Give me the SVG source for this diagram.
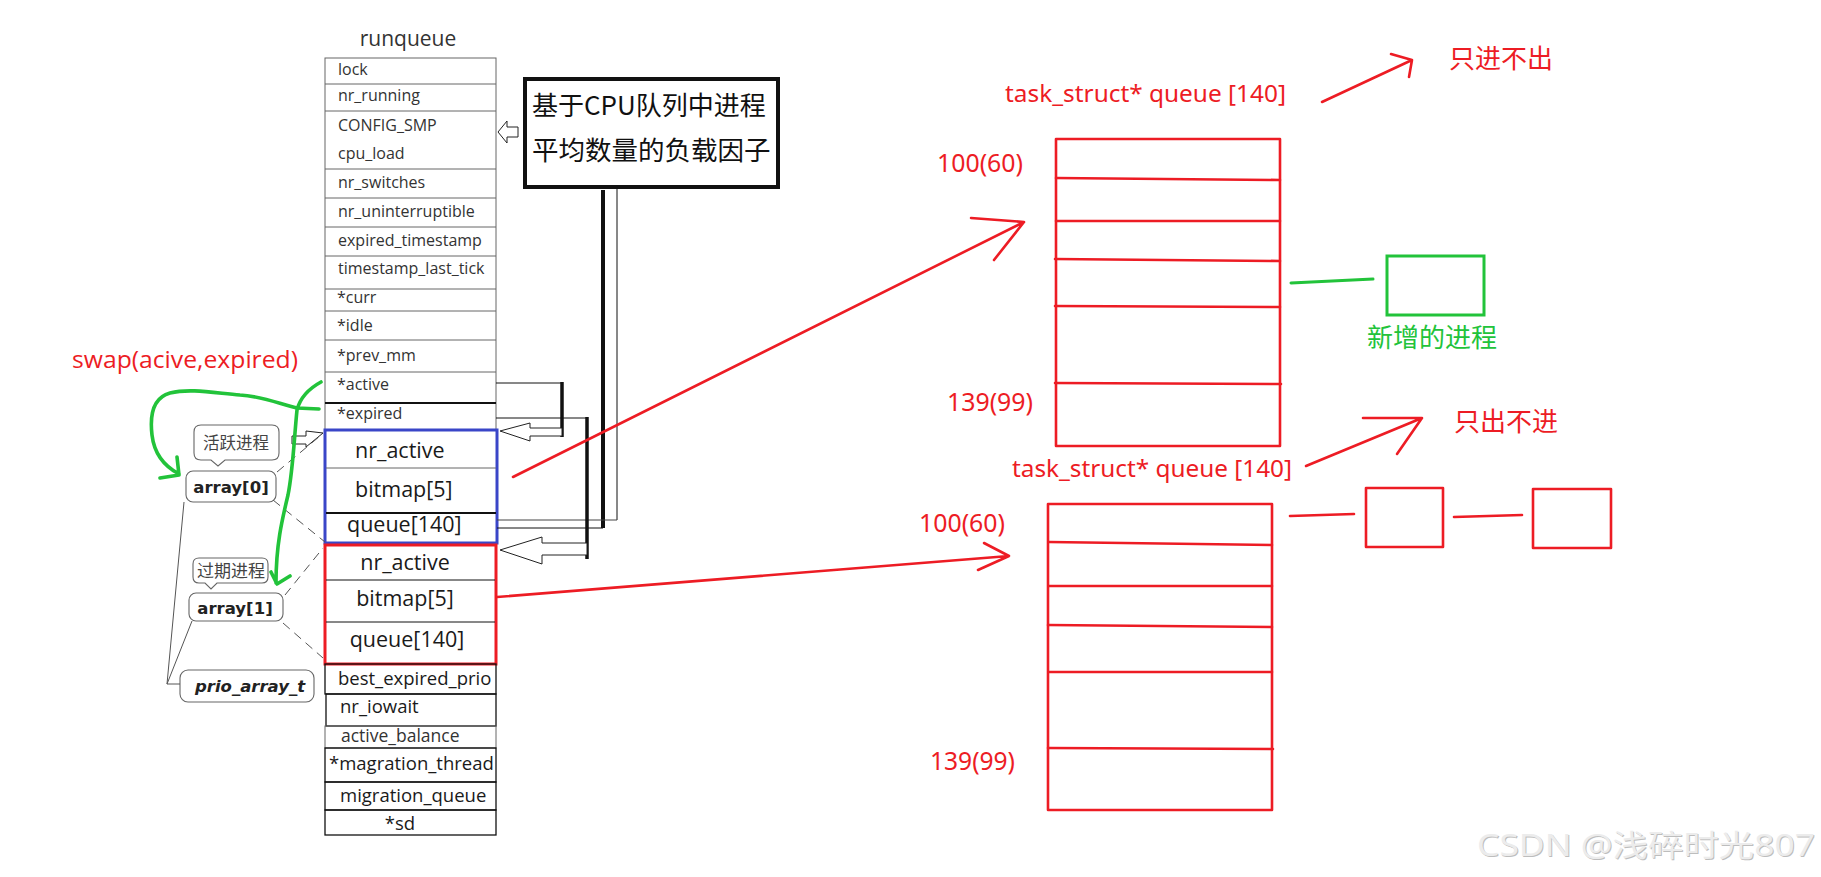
<svg xmlns="http://www.w3.org/2000/svg" width="1821" height="877" viewBox="0 0 1821 877">
<style>
.bg{fill:#fff}
.row{fill:none;stroke:#666;stroke-width:1}
.rowb{fill:none;stroke:#111;stroke-width:1.3}
.lbl{font-family:"Open Sans","Noto Sans",sans-serif;fill:#333;font-size:16px}
.big{font-family:"Open Sans","Noto Sans",sans-serif;fill:#1a1a1a;font-size:21.5px}
.mid{font-family:"Open Sans","Noto Sans",sans-serif;fill:#1a1a1a;font-size:18.5px}
.red{fill:none;stroke:#ed1c24;stroke-width:2.6;stroke-linecap:round;stroke-linejoin:round}
.redt{font-family:"Noto Sans","Open Sans",sans-serif;fill:#ed1c24}
.cjk{font-family:"Noto Sans CJK SC",sans-serif}
.grn{fill:none;stroke:#22c33a;stroke-width:3.6;stroke-linecap:round;stroke-linejoin:round}
.blk{fill:none;stroke:#111;stroke-width:1}
.thick{fill:none;stroke:#111;stroke-width:3.5}
.hollow{fill:#fff;stroke:#222;stroke-width:1}
.dash{fill:none;stroke:#555;stroke-width:1;stroke-dasharray:9 6}
.call{fill:#fff;stroke:#666;stroke-width:1.1}
.arr{font-family:"DejaVu Sans",sans-serif;font-weight:bold;font-size:16.5px;fill:#222}
.wm{font-family:"Noto Sans","Noto Sans CJK SC",sans-serif;font-size:30px}
</style>
<rect class="bg" x="0" y="0" width="1821" height="877"/>

<g id="runqueue">
<text x="408" y="46" text-anchor="middle" style="font-family:'Open Sans','Noto Sans',sans-serif;font-size:21px;fill:#333">runqueue</text>
<rect class="row" x="325" y="58" width="171" height="372"/>
<line class="row" x1="325" y1="84" x2="496" y2="84"/>
<line class="row" x1="325" y1="111" x2="496" y2="111"/>
<line class="row" x1="325" y1="169" x2="496" y2="169"/>
<line class="row" x1="325" y1="198" x2="496" y2="198"/>
<line class="row" x1="325" y1="227" x2="496" y2="227"/>
<line class="row" x1="325" y1="256" x2="496" y2="256"/>
<line class="row" x1="325" y1="289" x2="496" y2="289"/>
<line class="row" x1="325" y1="311" x2="496" y2="311"/>
<line class="row" x1="325" y1="340" x2="496" y2="340"/>
<line class="row" x1="325" y1="372" x2="496" y2="372"/>
<line x1="325" y1="403" x2="496" y2="403" stroke="#111" stroke-width="2"/>
<text class="lbl" x="338" y="75">lock</text>
<text class="lbl" x="338" y="101">nr_running</text>
<text class="lbl" x="338" y="131">CONFIG_SMP</text>
<text class="lbl" x="338" y="159">cpu_load</text>
<text class="lbl" x="338" y="188">nr_switches</text>
<text class="lbl" x="338" y="217">nr_uninterruptible</text>
<text class="lbl" x="338" y="246">expired_timestamp</text>
<text class="lbl" x="338" y="274">timestamp_last_tick</text>
<text class="lbl" x="337" y="303">*curr</text>
<text class="lbl" x="337" y="331">*idle</text>
<text class="lbl" x="337" y="361">*prev_mm</text>
<text class="lbl" x="337" y="390">*active</text>
<text class="lbl" x="337" y="419">*expired</text>
</g>

<g id="active-array">
<rect x="325" y="430" width="172" height="113" fill="none" stroke="#3a46c8" stroke-width="3"/>
<line class="row" x1="326" y1="468" x2="496" y2="468"/>
<line x1="326" y1="513" x2="496" y2="513" stroke="#111" stroke-width="2"/>
<text class="big" x="355" y="458">nr_active</text>
<text class="big" x="355" y="497">bitmap[5]</text>
<text class="big" x="347" y="532">queue[140]</text>
</g>

<g id="expired-array">
<rect x="325" y="545" width="171" height="119" fill="none" stroke="#ed1c24" stroke-width="3"/>
<line class="blk" x1="326" y1="580" x2="495" y2="580"/>
<line class="blk" x1="326" y1="622" x2="495" y2="622"/>
<text class="big" x="405" y="570" text-anchor="middle">nr_active</text>
<text class="big" x="405" y="606" text-anchor="middle">bitmap[5]</text>
<text class="big" x="407" y="647" text-anchor="middle">queue[140]</text>
</g>

<g id="runqueue-tail">
<rect class="rowb" x="325" y="664" width="171" height="30"/>
<rect class="rowb" x="326" y="694" width="170" height="32"/>
<rect class="row" x="325" y="726" width="171" height="22"/>
<rect class="rowb" x="325" y="748" width="171" height="34"/>
<rect class="rowb" x="325" y="782" width="171" height="28"/>
<rect class="rowb" x="325" y="810" width="171" height="25"/>
<text class="mid" x="338" y="685">best_expired_prio</text>
<text class="mid" x="340" y="713">nr_iowait</text>
<text class="mid" x="341" y="742" style="font-size:17.5px;fill:#333">active_balance</text>
<text class="mid" x="329" y="770">*magration_thread</text>
<text class="mid" x="340" y="802">migration_queue</text>
<text class="mid" x="400" y="830" text-anchor="middle">*sd</text>
</g>

<g id="cpu-load-note">
<rect x="525" y="79" width="253" height="108" fill="#fff" stroke="#111" stroke-width="4"/>
<text class="cjk" x="532" y="115" style="font-size:26px;fill:#111">基于CPU队列中进程</text>
<text class="cjk" x="532" y="160" style="font-size:26.5px;fill:#111">平均数量的负载因子</text>
</g>

<g id="callouts">
<path class="call" d="M201,425 H272 Q279,425 279,432 V453 Q279,460 272,460 H225 L218,466 L211,460 H201 Q194,460 194,453 V432 Q194,425 201,425 Z"/>
<text class="cjk" x="236" y="449" text-anchor="middle" style="font-size:16.5px;fill:#444">活跃进程</text>
<path class="call" d="M199,558 H262 Q268,558 268,564 V577 Q268,583 262,583 H217 L211,589 L205,583 H199 Q193,583 193,577 V564 Q193,558 199,558 Z"/>
<text class="cjk" x="231" y="577" text-anchor="middle" style="font-size:17px;fill:#444">过期进程</text>
</g>

<g id="array0">
<rect class="call" x="186" y="471" width="90" height="31" rx="7"/>
<text class="arr" x="231" y="493" text-anchor="middle">array[0]</text>
</g>
<g id="array1">
<rect class="call" x="189" y="593" width="94" height="28" rx="7"/>
<text class="arr" x="235" y="614" text-anchor="middle">array[1]</text>
</g>
<g id="prio_array_t">
<rect class="call" x="180" y="670" width="134" height="32" rx="8"/>
<text class="arr" x="250" y="692" text-anchor="middle" font-style="italic">prio_array_t</text>
</g>

<g id="upper-queue">
<rect class="red" x="1056" y="139" width="224" height="307"/>
<path class="red" d="M1056,178 L1280,180 M1056,221 L1280,221 M1055,259 L1280,261 M1055,306 L1280,307 M1055,383 L1281,384"/>
<text class="redt" x="1005" y="102" font-size="23" textLength="281" lengthAdjust="spacingAndGlyphs">task_struct* queue [140]</text>
<text class="redt" x="937" y="172" font-size="25" textLength="86" lengthAdjust="spacingAndGlyphs">100(60)</text>
<text class="redt" x="947" y="411" font-size="25" textLength="86" lengthAdjust="spacingAndGlyphs">139(99)</text>
</g>

<g id="new-process">
<rect x="1387" y="256" width="97" height="59" fill="none" stroke="#22c33a" stroke-width="3"/>
<text class="cjk" x="1432" y="347" text-anchor="middle" style="font-size:26px;fill:#22c33a">新增的进程</text>
</g>

<g id="lower-queue">
<rect class="red" x="1048" y="504" width="224" height="306"/>
<path class="red" d="M1049,542 L1272,545 M1049,586 L1272,586 M1048,625 L1272,627 M1049,672 L1272,672 M1048,748 L1273,749"/>
<text class="redt" x="1012" y="477" font-size="23" textLength="280" lengthAdjust="spacingAndGlyphs">task_struct* queue [140]</text>
<text class="redt" x="919" y="532" font-size="25" textLength="86" lengthAdjust="spacingAndGlyphs">100(60)</text>
<text class="redt" x="930" y="770" font-size="25" textLength="85" lengthAdjust="spacingAndGlyphs">139(99)</text>
</g>

<g id="task1">
<rect class="red" x="1366" y="488" width="77" height="59"/>
</g>
<g id="task2">
<rect class="red" x="1533" y="489" width="78" height="59"/>
</g>

<g id="labels">
<text class="cjk" x="1449" y="68" style="font-size:26px;fill:#ed1c24">只进不出</text>
<text class="cjk" x="1454" y="431" style="font-size:26px;fill:#ed1c24">只出不进</text>
<text x="72" y="368" font-size="23" textLength="226" lengthAdjust="spacingAndGlyphs" style="font-family:'Open Sans','Noto Sans',sans-serif;fill:#ed1c24">swap(acive,expired)</text>
<text class="wm" x="1478" y="857" textLength="338" lengthAdjust="spacingAndGlyphs" style="fill:#bdbdbd">CSDN @浅碎时光807</text>
<text class="wm" x="1477" y="856" textLength="338" lengthAdjust="spacingAndGlyphs" style="fill:#ececec">CSDN @浅碎时光807</text>
</g>

<g id="connectors">
<polygon class="hollow" points="498,132 507,121 507,127 518,127 518,137 507,137 507,143" stroke="#555"/>
<line x1="603" y1="190" x2="603" y2="528" stroke="#111" stroke-width="4"/>
<line x1="617" y1="189" x2="617" y2="520" stroke="#111" stroke-width="1"/>
<line class="blk" x1="497" y1="528" x2="603" y2="528"/>
<line x1="497" y1="520" x2="617" y2="520" stroke="#444" stroke-width="1"/>
<line class="blk" x1="496" y1="383" x2="562" y2="383" stroke="#555"/>
<line class="thick" x1="562" y1="382" x2="562" y2="437"/>
<polygon class="hollow" points="500,431 530,423 530,428 562,428 562,436 530,436 530,441"/>
<line class="blk" x1="496" y1="418" x2="587" y2="418" stroke="#555"/>
<line class="thick" x1="587" y1="417" x2="587" y2="559"/>
<polygon class="hollow" points="500,550 542,537 542,543 587,543 587,555 542,555 542,564"/>
<polygon class="hollow" points="292,436 306,436 306,431 323,433 306,447 306,444 292,444" stroke="#555"/>
<line class="dash" x1="277" y1="472" x2="320" y2="436"/>
<line class="dash" x1="273" y1="500" x2="325" y2="542"/>
<line class="dash" x1="285" y1="595" x2="323" y2="548"/>
<line class="dash" x1="283" y1="623" x2="323" y2="658"/>
<path d="M184,502 L167,684 L180,684 M192,621 L167,684" fill="none" stroke="#555" stroke-width="1"/>
<path class="red" d="M513,477 L1024,222 M971,218 L1024,222 L994,260"/>
<path class="red" d="M497,597 L1009,556 M984,543 L1009,556 L978,570"/>
<path class="red" d="M1322,102 L1412,60 M1391,54 L1412,60 L1409,77"/>
<path class="red" d="M1306,466 L1422,418 M1363,418 L1422,418 L1397,454"/>
<path class="red" d="M1290,516 L1354,514 M1454,517 L1522,515"/>
<path d="M1291,283 L1373,279" fill="none" stroke="#22c33a" stroke-width="3" stroke-linecap="round"/>
<path class="grn" d="M319,409 L297,408 C280,404 262,396 240,395 C215,393 190,388 170,393 C152,398 150,418 152,435 C154,452 162,465 179,474 M160,478 L179,475 L177,457"/>
<path class="grn" d="M321,382 C310,388 300,398 297,410 C294,440 293,470 288,495 C282,520 276,545 276,583 M271,572 L277,584 L290,576"/>
</g>
</svg>
